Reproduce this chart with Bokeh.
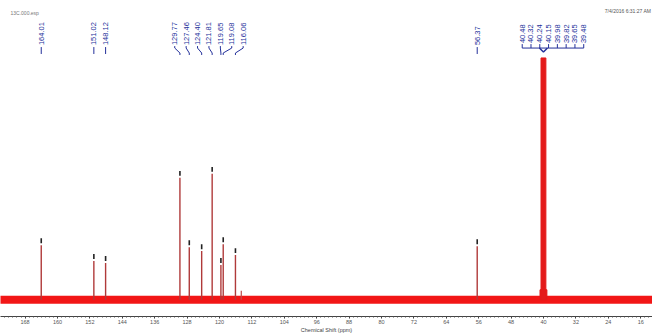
import numpy as np
from bokeh.plotting import figure
from bokeh.models import Range1d, FixedTicker
from bokeh.core.properties import value
from bokeh.embed import file_html
from bokeh.resources import INLINE

# ---- data ----
peak_ppm = [164.01, 151.02, 148.12, 129.77, 127.46, 124.40, 121.81, 119.65, 119.08, 116.06, 56.37]
peak_height = [55, 39, 37, 123, 53, 49, 127, 35, 56, 45, 54]
small_ppm = [114.62]
small_height = [9]
solvent_ppm = [40.48, 40.32, 40.24, 40.15, 39.98, 39.82, 39.65, 39.48]
solvent_height = 244
tick_ppm = list(range(16, 169, 8))
minor_tick_ppm = list(range(14, 174))
file_label = "13C.000.esp"
stamp_label = "7/4/2016 6:31:27 AM"
x_title = "Chemical Shift (ppm)"

FONT = value("Liberation Sans")
LABEL_COLOR = "#23309a"
FS = "7.5px"

p = figure(width=652, height=335, output_backend="svg", toolbar_location=None,
           x_range=Range1d(174.07, 13.09), y_range=Range1d(-17, 302),
           y_axis_location=None, min_border_left=0, min_border_right=0,
           min_border_top=0, min_border_bottom=16)
p.grid.visible = False
p.outline_line_color = None
p.background_fill_color = "white"

# baseline (noise band)
p.line(x=[175, 12], y=[0, 0], line_width=8, color="#f21616")

# peaks
p.segment(x0=peak_ppm, y0=[0] * len(peak_ppm), x1=peak_ppm, y1=peak_height,
          line_width=1.4, color="#b03a3a")
p.segment(x0=small_ppm, y0=[0] * len(small_ppm), x1=small_ppm, y1=small_height,
          line_width=1.2, color="#c04a4a")
# peak-pick markers
p.segment(x0=peak_ppm, y0=[h + 2 for h in peak_height], x1=peak_ppm,
          y1=[h + 7 for h in peak_height], line_width=1.6, color="#222222")

# solvent multiplet
sol_c = float(np.mean(solvent_ppm))
p.vbar(x=[sol_c], width=1.7, top=[10], bottom=[0], color="#e41a1a")
p.vbar(x=[sol_c], width=1.2, top=[solvent_height], bottom=[0], color="#e41a1a")

# ---- labels ----
LY = 257  # bottom of label text
iso_idx = [0, 1, 2, 10]
clu_idx = [3, 4, 5, 6, 7, 8, 9]

# isolated labels with dash
iso_x = [peak_ppm[i] for i in iso_idx]
p.segment(x0=iso_x, y0=[248] * len(iso_x), x1=iso_x, y1=[255] * len(iso_x),
          line_width=1, color=LABEL_COLOR)
p.text(x=iso_x, y=[LY] * len(iso_x), text=[f"{peak_ppm[i]:.2f}" for i in iso_idx],
       angle=np.pi / 2, text_align="left", text_baseline="middle",
       text_font_size=FS, text_color=LABEL_COLOR, text_font=FONT)

# cluster labels spread evenly
clu_ppm = [peak_ppm[i] for i in clu_idx]
clu_c = float(np.mean(clu_ppm))
n = len(clu_ppm)
clu_lx = [clu_c + ((n - 1) / 2 - k) * 2.815 for k in range(n)]
for lx, px in zip(clu_lx, clu_ppm):
    p.line(x=[lx, lx, px, px], y=[256, 254, 249, 247], line_width=1, color=LABEL_COLOR)
p.text(x=clu_lx, y=[LY] * n, text=[f"{v:.2f}" for v in clu_ppm],
       angle=np.pi / 2, text_align="left", text_baseline="middle",
       text_font_size=FS, text_color=LABEL_COLOR, text_font=FONT)

# solvent labels with bracket
m = len(solvent_ppm)
sol_lx = [sol_c - 2.35 + ((m - 1) / 2 - k) * 2.17 for k in range(m)]
p.segment(x0=sol_lx, y0=[258] * m, x1=sol_lx, y1=[254] * m, line_width=1, color=LABEL_COLOR)
p.line(x=[sol_lx[0], sol_lx[-1]], y=[254, 254], line_width=1, color=LABEL_COLOR)
p.line(x=[sol_c + 1.0, sol_c, sol_c - 1.0], y=[254, 250, 254], line_width=1.5, color=LABEL_COLOR)
p.text(x=sol_lx, y=[259] * m, text=[f"{v:.2f}" for v in solvent_ppm],
       angle=np.pi / 2, text_align="left", text_baseline="middle",
       text_font_size=FS, text_color=LABEL_COLOR, text_font=FONT)

# header texts
p.text(x=[171.6], y=[289], text=[file_label], text_align="left", text_baseline="middle",
       text_font_size="5px", text_color="#777777", text_font=FONT)
p.text(x=[13.4], y=[291], text=[stamp_label], text_align="right", text_baseline="middle",
       text_font_size="5px", text_color="#555555", text_font=FONT)

# x axis
ax = p.xaxis[0]
ax.ticker = FixedTicker(ticks=tick_ppm, minor_ticks=minor_tick_ppm)
ax.axis_label = x_title
ax.axis_label_text_font_size = "5.5px"
ax.axis_label_text_font_style = "normal"
ax.axis_label_text_font = "Liberation Sans"
ax.axis_label_text_color = "#444444"
ax.axis_label_standoff = 0
ax.major_label_text_font_size = "5.5px"
ax.major_label_text_font = "Liberation Sans"
ax.major_label_text_color = "#555555"
ax.major_label_standoff = 1
ax.major_tick_out = 2
ax.major_tick_in = 0
ax.minor_tick_out = 1
ax.minor_tick_in = 0
ax.axis_line_color = "#444444"
ax.major_tick_line_color = "#333333"
ax.minor_tick_line_color = "#555555"

open("out.html", "w").write(file_html(p, INLINE))
